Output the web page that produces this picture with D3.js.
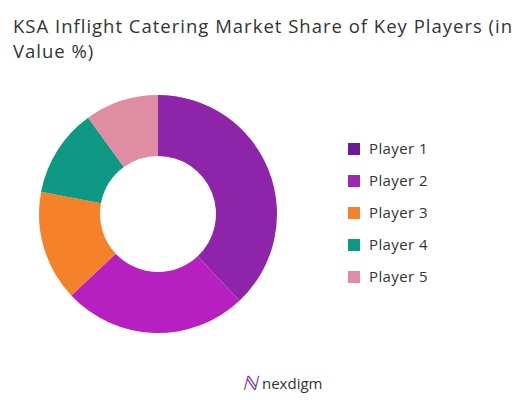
<!DOCTYPE html><html><head><script src="https://cdn.jsdelivr.net/npm/d3@7"></script>
<style>body{margin:0;background:#fff}</style></head><body><svg id="c" width="529" height="400"></svg>
<script>
const categories=["Player 1","Player 2","Player 3","Player 4","Player 5"];
const values=[38,25,15,12,10];
const colors=["#8E24AA","#B620C0","#F5812A","#0E9985","#E08CA2"];
const legendColors=["#6A1B9A","#9C27B0","#F5812A","#0E9985","#E08CA2"];
const svg=d3.select("#c");
svg.append("rect").attr("width",529).attr("height",400).attr("fill","#fff");
const t=svg.append("text").attr("font-family","'Open Sans', sans-serif").attr("font-size",18.5).attr("fill","#333").attr("letter-spacing",1.0);
t.append("tspan").attr("x",13).attr("y",33).text("KSA Inflight Catering Market Share of Key Players (in");
t.append("tspan").attr("x",13).attr("y",58).text("Value %)");
const pie=d3.pie().sort(null).value(d=>d);
const arc=d3.arc().innerRadius(58).outerRadius(119);
const g=svg.append("g").attr("transform","translate(158,214)");
g.selectAll("path").data(pie(values)).join("path").attr("d",arc).attr("fill",(d,i)=>colors[i]);
const lg=svg.append("g");
categories.forEach((c,i)=>{
 const y=149+i*32;
 lg.append("rect").attr("x",348).attr("y",y-6).attr("width",12).attr("height",12).attr("fill",legendColors[i]);
 lg.append("text").attr("x",369).attr("y",y+5).attr("font-family","'Open Sans', sans-serif").attr("font-size",15).attr("fill","#333").attr("letter-spacing",0.4).text(c);
});
svg.append("text").attr("x",242).attr("y",390).attr("font-family","Lato, sans-serif").attr("font-size",20).attr("fill","#7B2D8E").attr("font-style","italic").text("ℕ");
svg.append("text").attr("x",262).attr("y",389).attr("font-family","'Open Sans', sans-serif").attr("font-size",15).attr("fill","#333").text("nexdigm");
</script></body></html>
